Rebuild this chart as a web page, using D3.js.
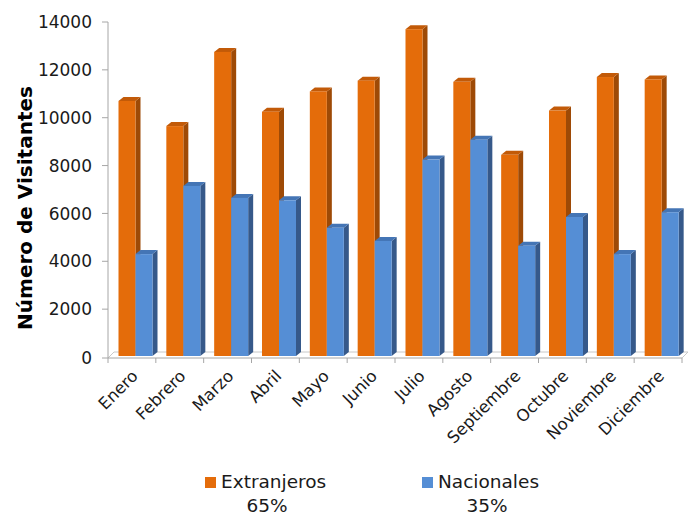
<!DOCTYPE html>
<html>
<head>
<meta charset="utf-8">
<script src="https://cdn.jsdelivr.net/npm/d3@7"></script>
<style>
  html, body { margin: 0; padding: 0; background: #fff; }
  svg { display: block; }
</style>
</head>
<body>
<svg id="chart" width="690" height="516"></svg>
<script>
const months = ["Enero","Febrero","Marzo","Abril","Mayo","Junio","Julio","Agosto","Septiembre","Octubre","Noviembre","Diciembre"];
const extranjeros = [10700, 9650, 12750, 10250, 11100, 11550, 13700, 11500, 8450, 10300, 11700, 11600];
const nacionales  = [4300, 7150, 6650, 6550, 5400, 4850, 8250, 9080, 4650, 5850, 4300, 6050];
const yTicks = [0, 2000, 4000, 6000, 8000, 10000, 12000, 14000];
const seriesNames = ["Extranjeros", "Nacionales"];
const seriesShares = ["65%", "35%"];

const svg = d3.select("#chart");
const font = "'DejaVu Sans', sans-serif";
const axisColor = "#A6A6A6";

const x = d3.scaleBand().domain(months).range([108, 682]);
const y = d3.scaleLinear().domain([0, 14000]).range([357, 22]);
const baseY = 358;
const dx = 5, dy = -4;
const barW = 17;

const colors = [
  { front: "#E46C0A", side: "#9E4A06", top: "#C25A08" },
  { front: "#558ED5", side: "#36598A", top: "#4475B5" }
];

// floor
const floor = svg.append("g").attr("fill", "none").attr("stroke", "#C8C8C8").attr("stroke-width", 1);
floor.append("path").attr("d", `M108,${baseY} L${108 + 6},${baseY - 6} L${682 + 6},${baseY - 6} L682,${baseY}`);

// axes
const yAxis = svg.append("g").attr("transform", "translate(108,0)").call(
  d3.axisLeft(y).tickValues(yTicks).tickSize(6).tickPadding(10).tickFormat(d3.format("d"))
);
yAxis.select(".domain").attr("stroke", axisColor).attr("d", `M0,${y(14000)}V${baseY}`);
yAxis.selectAll(".tick line").attr("stroke", axisColor);
yAxis.selectAll(".tick").attr("transform", d => `translate(0,${d === 0 ? baseY : y(d)})`);
yAxis.selectAll("text").attr("font-family", font).attr("font-size", 17).attr("fill", "#1a1a1a").attr("dy", "0.36em");

const xAxisG = svg.append("g");
xAxisG.append("line").attr("x1", 108).attr("x2", 682).attr("y1", baseY).attr("y2", baseY).attr("stroke", axisColor);
const edges = months.map(m => x(m)).concat([x.range()[1]]);
xAxisG.selectAll("line.tk").data(edges).join("line").attr("class", "tk")
  .attr("x1", d => d).attr("x2", d => d).attr("y1", baseY).attr("y2", baseY + 5).attr("stroke", axisColor);
xAxisG.selectAll("text").data(months).join("text")
  .attr("transform", d => `translate(${x(d) + x.bandwidth() / 2 + 7},${baseY + 19}) rotate(-45)`)
  .attr("text-anchor", "end")
  .attr("font-family", font).attr("font-size", 16.5).attr("fill", "#1a1a1a")
  .text(d => d);

// bars
const data = months.map((m, i) => ({ m, vals: [extranjeros[i], nacionales[i]] }));
const barBase = 356;
const g = svg.append("g");
data.forEach(d => {
  d.vals.forEach((v, s) => {
    const x0 = x(d.m) + 10.5 + s * barW;
    const yt = y(v);
    const c = colors[s];
    const bg = g.append("g");
    bg.append("polygon")
      .attr("points", `${x0 + barW},${yt} ${x0 + barW + dx},${yt + dy} ${x0 + barW + dx},${barBase + dy} ${x0 + barW},${barBase}`)
      .attr("fill", c.side);
    bg.append("polygon")
      .attr("points", `${x0},${yt} ${x0 + barW},${yt} ${x0 + barW + dx},${yt + dy} ${x0 + dx},${yt + dy}`)
      .attr("fill", c.top);
    bg.append("rect").attr("x", x0).attr("y", yt).attr("width", barW).attr("height", barBase - yt).attr("fill", c.front);
  });
});

// y title
svg.append("text")
  .attr("transform", "translate(32,208) rotate(-90)")
  .attr("text-anchor", "middle")
  .attr("font-family", font).attr("font-size", 20).attr("font-weight", "bold").attr("fill", "#000")
  .text("Número de Visitantes");

// legend
const legX = [205, 422];
const lg = svg.append("g");
seriesNames.forEach((name, i) => {
  lg.append("rect").attr("x", legX[i]).attr("y", 477).attr("width", 11).attr("height", 11).attr("fill", colors[i].front);
  lg.append("text").attr("x", legX[i] + 16).attr("y", 488)
    .attr("font-family", font).attr("font-size", 18.5).attr("fill", "#1a1a1a").text(name);
  lg.append("text").attr("x", legX[i] + (i === 0 ? 62 : 65)).attr("y", 512).attr("text-anchor", "middle")
    .attr("font-family", font).attr("font-size", 18.5).attr("fill", "#1a1a1a").text(seriesShares[i]);
});
</script>
</body>
</html>
